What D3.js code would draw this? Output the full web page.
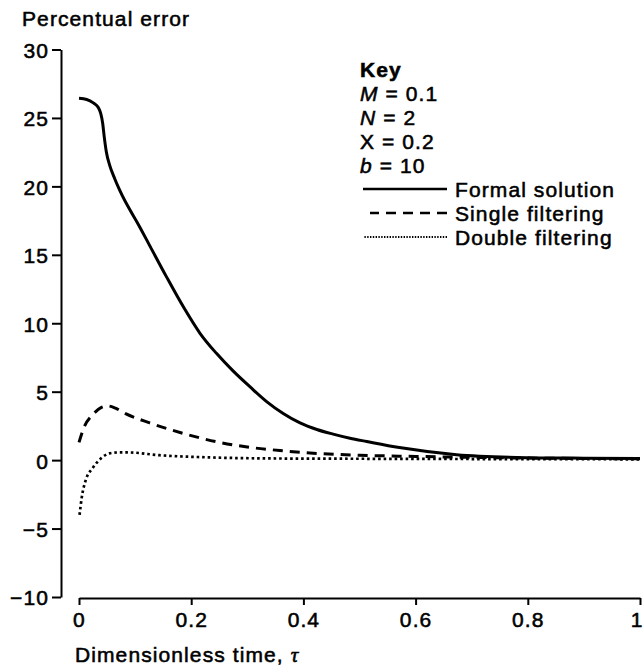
<!DOCTYPE html>
<html>
<head>
<meta charset="utf-8">
<script src="https://cdn.jsdelivr.net/npm/d3@7"></script>
<style>
    body { margin: 0; background: #fff; }
    svg text { font-family: "Liberation Sans", Arial, sans-serif; font-size: 21px; letter-spacing: 1.1px; fill: #000; stroke: #000; stroke-width: 0.55px; }
</style>
</head>
<body>
<svg width="644" height="671"></svg>
<script>
// Data
let formal_tau = [0, 0.0137, 0.0255, 0.0344, 0.0387, 0.0422, 0.045, 0.0487, 0.0546, 0.0635, 0.0725, 0.1087, 0.127, 0.156, 0.186, 0.216, 0.245, 0.275, 0.305, 0.335, 0.364, 0.394, 0.424, 0.453, 0.483, 0.513, 0.571, 0.673, 0.78, 0.9, 1.0]
let formal_err = [26.43, 26.35, 26.1, 25.76, 25.33, 24.61, 23.62, 22.53, 21.55, 20.58, 19.72, 17.0, 15.6, 13.39, 11.2, 9.25, 7.8, 6.5, 5.35, 4.26, 3.41, 2.72, 2.24, 1.9, 1.6, 1.36, 0.92, 0.4, 0.2, 0.14, 0.12]

let single_tau = [0, 0.009, 0.024, 0.04, 0.051, 0.065, 0.083, 0.126, 0.186, 0.245, 0.305, 0.364, 0.424, 0.5, 0.6, 0.7, 0.8, 0.9, 1.0]
let single_err = [1.3, 2.4, 3.3, 3.85, 3.96, 3.8, 3.4, 2.72, 1.95, 1.34, 0.93, 0.68, 0.49, 0.36, 0.27, 0.2, 0.15, 0.12, 0.1]

let double_tau = [0.001, 0.005, 0.012, 0.024, 0.039, 0.054, 0.07, 0.089, 0.143, 0.232, 0.351, 0.5, 0.7, 1.0]
let double_err = [-4.0, -2.7, -1.46, -0.6, 0.12, 0.49, 0.56, 0.56, 0.36, 0.2, 0.12, 0.1, 0.08, 0.06]

let x_ticks = [0, 0.2, 0.4, 0.6, 0.8, 1]
let y_ticks = [-10, -5, 0, 5, 10, 15, 20, 25, 30]

let key_params = [
    { sym: 'M', italic: true, val: ' = 0.1' },
    { sym: 'N', italic: true, val: ' = 2' },
    { sym: 'X', italic: false, val: ' = 0.2' },
    { sym: 'b', italic: true, val: ' = 10' }
]
let series_names = ['Formal solution', 'Single filtering', 'Double filtering']
let series_dash = ['none', '10 7', '2.6 2.9']
let key_dash = ['none', '10 7', '1.4 1.4']

let svg = d3.select('svg')

let scale = {
    x: d3.scaleLinear().domain([0, 1]).range([79, 640]),
    y: d3.scaleLinear().domain([-10, 30]).range([597, 49.5])
}

let fmt_x = d => d === 0 ? '0' : d === 1 ? '1' : d3.format('.1f')(d)
let fmt_y = d => d < 0 ? '\u2212' + Math.abs(d) : String(d)

// Y axis
let gy = svg.append('g')
    .attr('transform', 'translate(61,0)')
    .call(d3.axisLeft(scale.y).tickValues(y_ticks).tickFormat(fmt_y).tickSize(9).tickSizeOuter(0).tickPadding(3))
gy.selectAll('path, line').attr('stroke', '#000').attr('stroke-width', 2)
gy.selectAll('text').attr('font-size', null).attr('font-family', null).attr('dy', '0.38em')

// X axis
let gx = svg.append('g')
    .attr('transform', 'translate(0,598)')
    .call(d3.axisBottom(scale.x).tickValues(x_ticks).tickFormat(fmt_x).tickSize(7).tickSizeOuter(0).tickPadding(7))
gx.selectAll('path, line').attr('stroke', '#000').attr('stroke-width', 2)
gx.selectAll('text').attr('font-size', null).attr('font-family', null)
gx.selectAll('.tick:last-child text').attr('text-anchor', 'end').attr('dx', '3')

// Axis titles
svg.append('text').attr('x', 22).attr('y', 26).text('Percentual error')
let xt = svg.append('text').attr('x', 75).attr('y', 662)
xt.append('tspan').text('Dimensionless time, ')
xt.append('tspan').attr('font-family', '"Liberation Serif", serif').attr('font-style', 'italic').text('\u03c4')

// Curves
let line = d3.line()
    .x(d => scale.x(d[0]))
    .y(d => scale.y(d[1]))
    .curve(d3.curveMonotoneX)

let series = [
    d3.zip(formal_tau, formal_err),
    d3.zip(single_tau, single_err),
    d3.zip(double_tau, double_err)
]

svg.selectAll('path.curve')
    .data(series)
    .join('path')
    .attr('class', 'curve')
    .attr('d', line)
    .attr('fill', 'none')
    .attr('stroke', '#000')
    .attr('stroke-width', (d, i) => i === 2 ? 2.7 : 3)
    .attr('stroke-dasharray', (d, i) => series_dash[i])

// Key
let key = svg.append('g')
key.append('text').attr('x', 360).attr('y', 77).attr('font-weight', 'bold').text('Key')

key.selectAll('text.param')
    .data(key_params)
    .join('text')
    .attr('class', 'param')
    .attr('x', 360)
    .attr('y', (d, i) => 101 + i * 24)
    .each(function (d) {
        let t = d3.select(this)
        t.append('tspan').attr('font-style', d.italic ? 'italic' : null).text(d.sym)
        t.append('tspan').text(d.val)
    })

let rows = key.selectAll('g.row')
    .data(series_names)
    .join('g')
    .attr('class', 'row')
    .attr('transform', (d, i) => `translate(0,${197 + i * 24})`)

rows.append('line')
    .attr('x1', 447).attr('x2', (d, i) => i === 1 ? 370 : 363)
    .attr('y1', -8).attr('y2', -8)
    .attr('stroke', '#000')
    .attr('stroke-width', (d, i) => i === 2 ? 2 : 2.6)
    .attr('stroke-dasharray', (d, i) => key_dash[i])

rows.append('text').attr('x', 455).attr('y', 0).text(d => d)
</script>
</body>
</html>
